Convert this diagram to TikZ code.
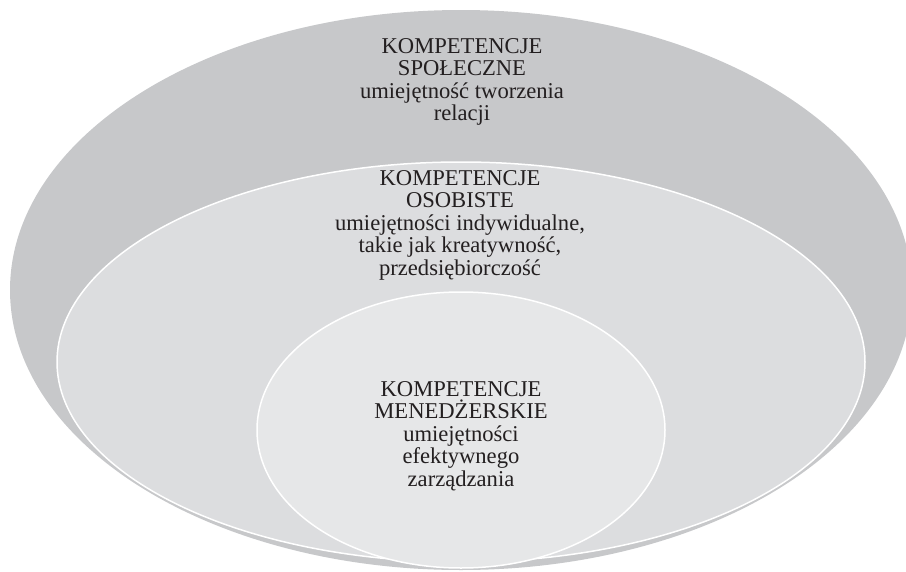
\documentclass[tikz,border=0pt]{standalone}
\usepackage{fontspec}
\setmainfont{Liberation Serif}
\definecolor{outerc}{HTML}{C7C8CA}
\definecolor{midc}{HTML}{DCDDDF}
\definecolor{innerc}{HTML}{E6E7E8}
\definecolor{txtc}{HTML}{231F20}
\newcommand{\centerlines}[1]{\vtop{\halign{\hfil##\hfil\cr #1\crcr}}}
\tikzset{
  ring/.style={draw=white, line width=1.5pt},
  lbl/.style={anchor=base, inner sep=0pt, text=txtc, font=\fontsize{22.6}{22.6}\selectfont}
}
\begin{document}
\begin{tikzpicture}[x=1pt, y=-1pt]
\useasboundingbox (0,0) rectangle (906,571);
\clip (0,0) rectangle (906,571);
\fill[outerc] (461,290) ellipse [x radius=451pt, y radius=280pt];
\filldraw[fill=midc, ring] (461,362) ellipse [x radius=404pt, y radius=200pt];
\filldraw[fill=innerc, ring] (461,430) ellipse [x radius=204pt, y radius=138pt];
\node[lbl] (social) at (462,53) {\centerlines{KOMPETENCJE\cr SPOŁECZNE\cr umiejętność tworzenia\cr relacji}};
\node[lbl] (personal) at (460,185) {\centerlines{KOMPETENCJE\cr OSOBISTE\cr umiejętności indywidualne,\cr takie jak kreatywność,\cr przedsiębiorczość}};
\node[lbl] (manager) at (461,396) {\centerlines{KOMPETENCJE\cr MENEDŻERSKIE\cr umiejętności\cr efektywnego\cr zarządzania}};
\end{tikzpicture}
\end{document}
